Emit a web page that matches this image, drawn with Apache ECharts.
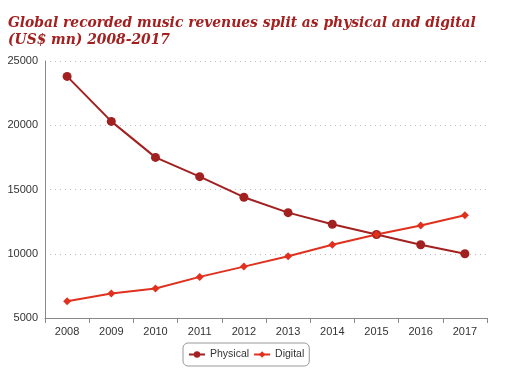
<!DOCTYPE html>
<html><head><meta charset="utf-8">
<script src="https://cdn.jsdelivr.net/npm/echarts@6/dist/echarts.min.js"></script>
<style>html,body{margin:0;padding:0;background:#fff}#c{width:516px;height:383px}</style>
</head><body><div id="c"></div>
<script>
const years = ['2008','2009','2010','2011','2012','2013','2014','2015','2016','2017'];
const physical = [23800, 20300, 17500, 16000, 14400, 13200, 12300, 11500, 10700, 10000];
const digital = [6300, 6900, 7300, 8200, 9000, 9800, 10700, 11500, 12200, 13000];
const titleText = 'Global recorded music revenues split as physical and digital\n(US$ mn) 2008-2017';

const chart = echarts.init(document.getElementById('c'), null, {renderer:'canvas'});
chart.setOption({
  animation:false,
  backgroundColor:'#fff',
  title:{
    text:titleText, left:3, top:9,
    textStyle:{fontFamily:'DejaVu Serif Condensed', fontStyle:'italic', fontWeight:'bold', fontSize:15.4, color:'#a32020', lineHeight:17}
  },
  legend:{
    bottom:17, left:183,
    data:['Physical','Digital'],
    itemWidth:16, itemHeight:8, itemGap:4,
    borderColor:'#999', borderWidth:1, borderRadius:5, padding:[6,5],
    textStyle:{fontFamily:'Liberation Sans', fontSize:10.5, color:'#333'}
  },
  grid:{left:45, right:29, top:61, bottom:65},
  xAxis:{
    type:'category', data:years, boundaryGap:true,
    axisLine:{lineStyle:{color:'#888'}},
    axisTick:{show:true, alignWithLabel:false, length:5, lineStyle:{color:'#888'}},
    axisLabel:{fontFamily:'Liberation Sans', fontSize:11, color:'#333', margin:8}
  },
  yAxis:{
    type:'value', min:5000, max:25000, interval:5000,
    axisLine:{show:true, lineStyle:{color:'#888'}},
    axisTick:{show:false},
    axisLabel:{fontFamily:'Liberation Sans', fontSize:11, color:'#333', margin:7, formatter:v=>String(v)},
    splitLine:{lineStyle:{color:'#bbb', type:[1,4]}}
  },
  series:[
    {name:'Physical', type:'line', data:physical, symbol:'circle', symbolSize:9,
     itemStyle:{color:'#a32020'}, lineStyle:{color:'#a32020', width:2}},
    {name:'Digital', type:'line', data:digital, symbol:'diamond', symbolSize:8,
     itemStyle:{color:'#e0301e'}, lineStyle:{color:'#e0301e', width:2}}
  ]
});
</script></body></html>
